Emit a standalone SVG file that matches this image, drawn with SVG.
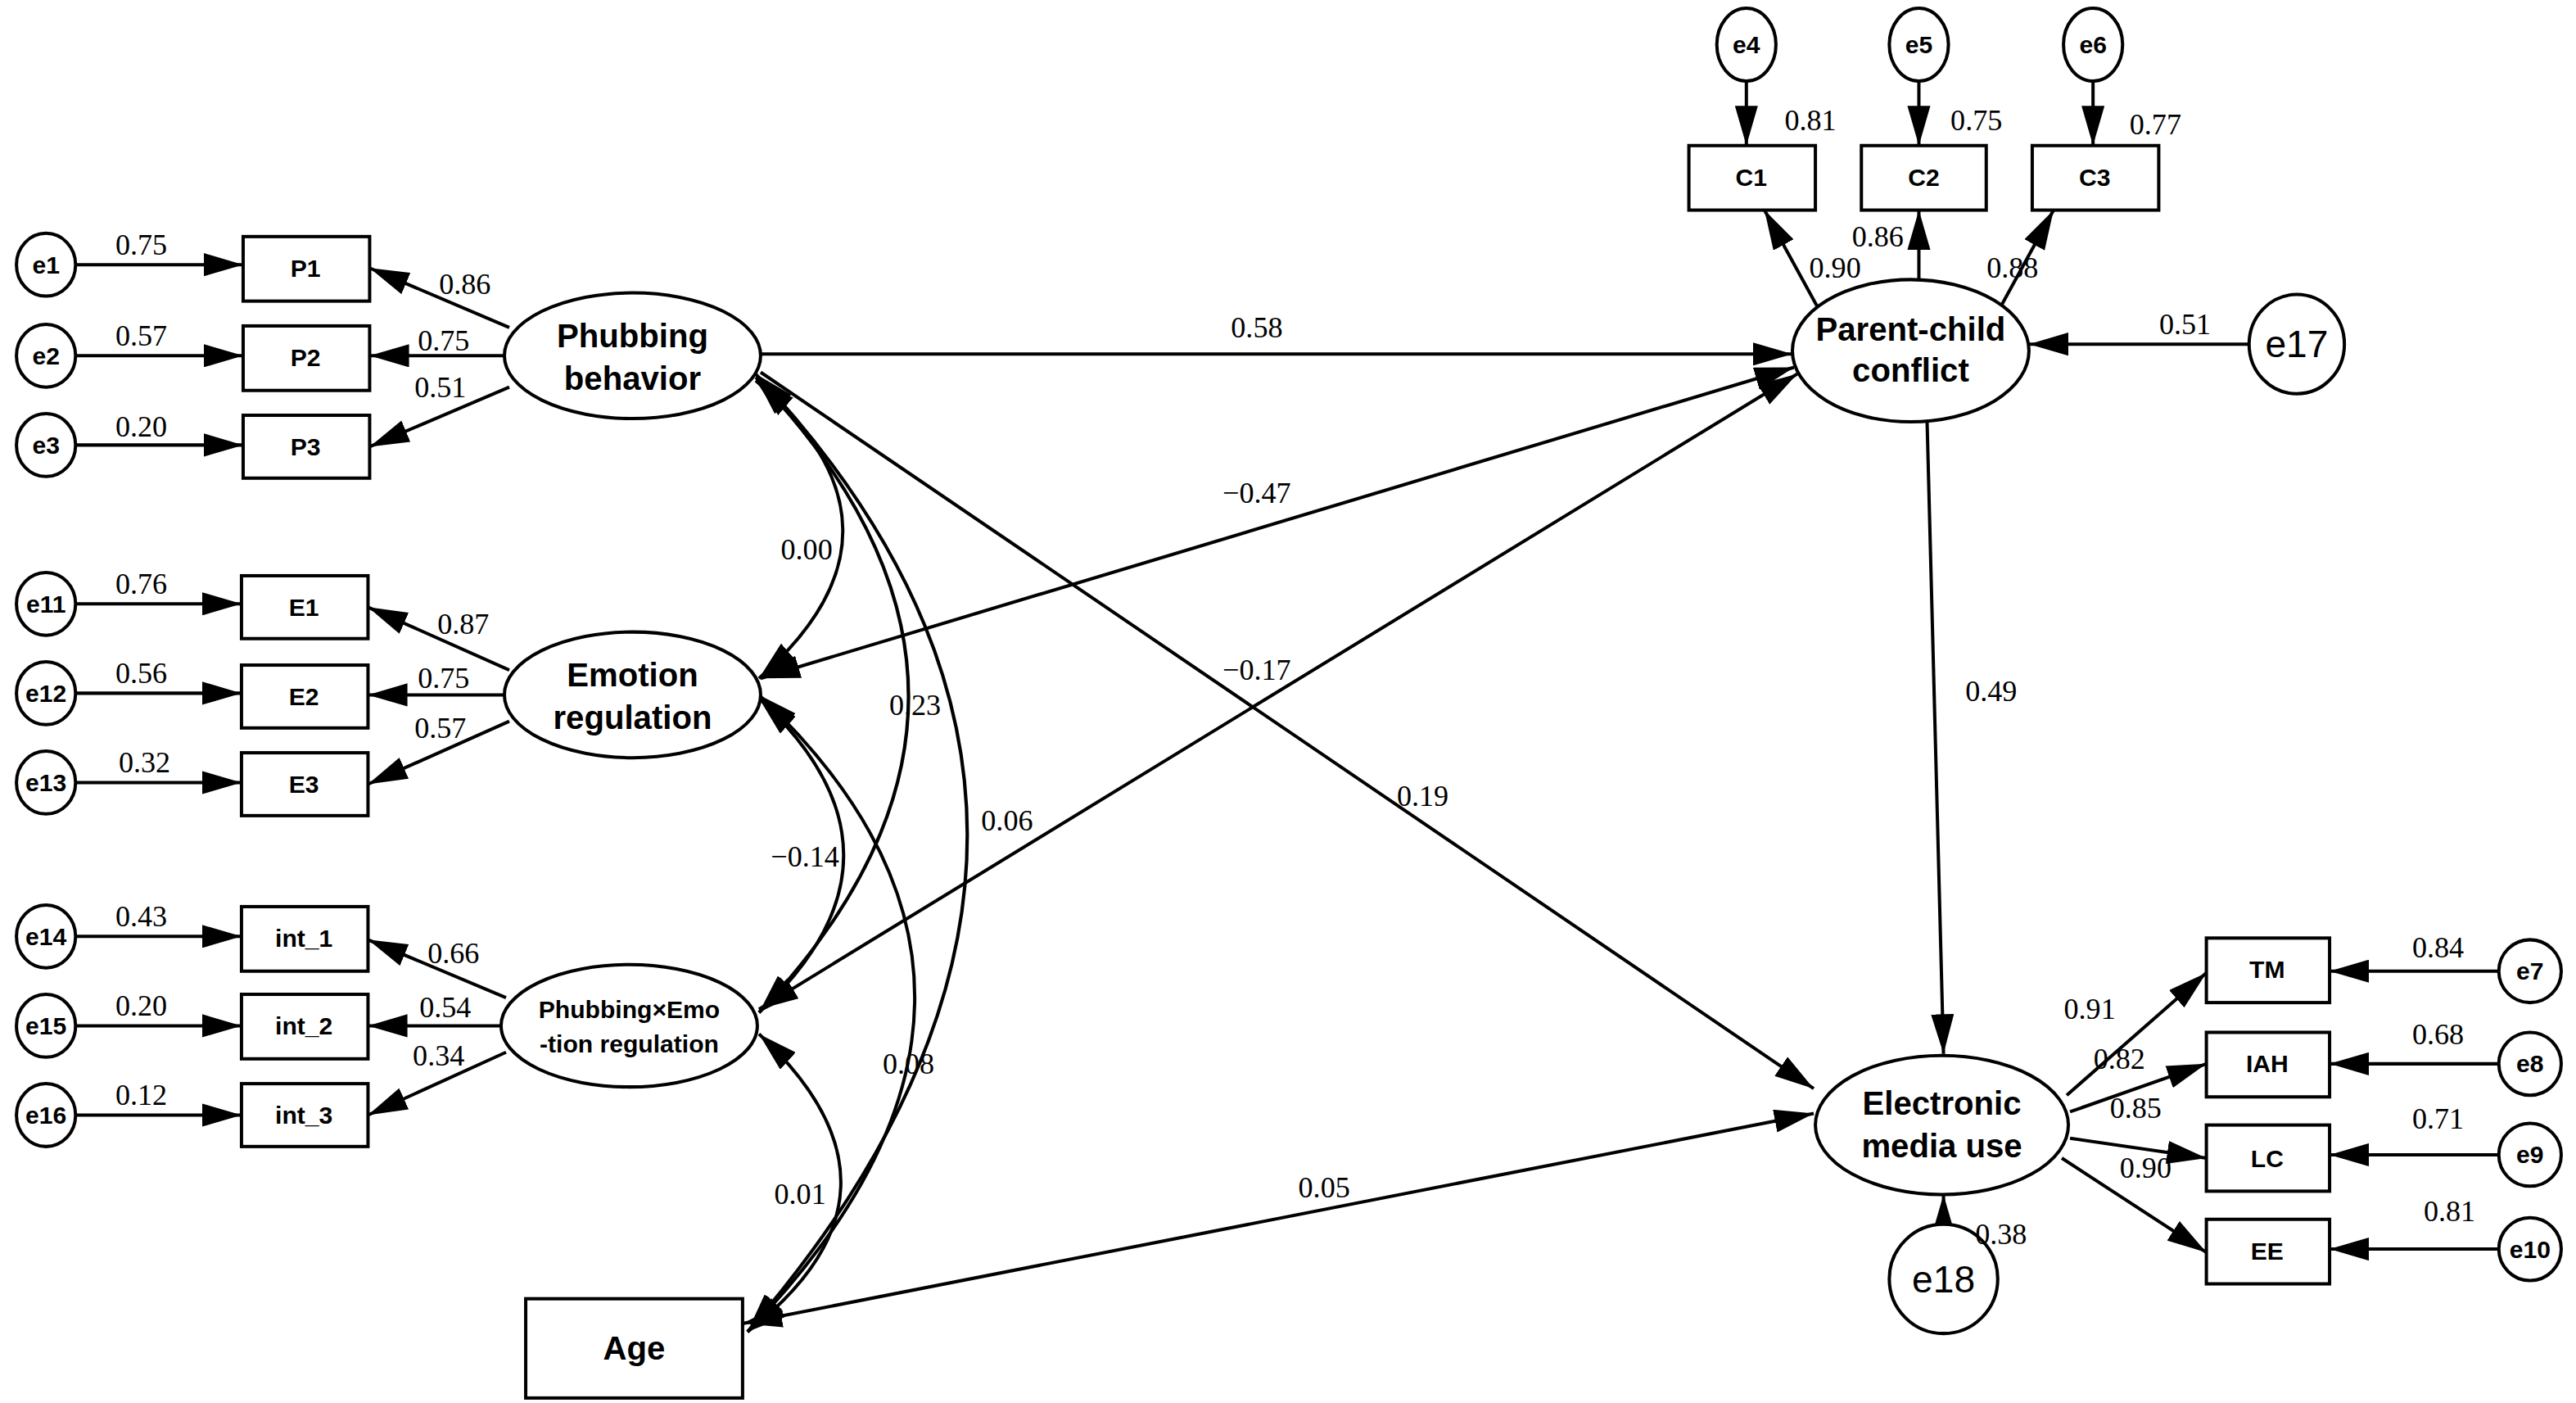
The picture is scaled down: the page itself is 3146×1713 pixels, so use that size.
<svg xmlns="http://www.w3.org/2000/svg" width="3146" height="1713" viewBox="0 0 3146 1713">
<style>
.s{fill:#fff;stroke:#000;stroke-width:2}
.c{fill:none;stroke:#000;stroke-width:2}
.e{marker-end:url(#a)}
.b{marker-start:url(#a);marker-end:url(#a)}
.n{font-family:"Liberation Sans",Arial,sans-serif;font-weight:bold;text-anchor:middle;dominant-baseline:central;font-size:15px}
.L{font-size:20px}
.X{font-size:23px;font-weight:normal}
.v{font-family:"Liberation Serif","Times New Roman",serif;font-size:18px;text-anchor:middle;dominant-baseline:central}
</style>
<defs>
<marker id="a" markerUnits="userSpaceOnUse" markerWidth="24" markerHeight="14" refX="24" refY="7" orient="auto-start-reverse" viewBox="0 0 24 14"><path d="M0,0 L24,7 L0,14 z"/></marker>
</defs>
<rect width="3146" height="1713" fill="#fff"/>
<g transform="scale(2.0064,2.02)">
<g id="connectors">
<path class="c e" d="M46,160H148"/><path class="c e" d="M46,215H148"/><path class="c e" d="M46,269H148"/>
<path class="c e" d="M46,365H147"/><path class="c e" d="M46,419H147"/><path class="c e" d="M46,473H147"/>
<path class="c e" d="M46,566H147"/><path class="c e" d="M46,620H147"/><path class="c e" d="M46,674H147"/>
<path class="c e" d="M310,198L225,162"/><path class="c e" d="M307,215H225"/><path class="c e" d="M310,234L225,270"/>
<path class="c e" d="M310,405L224,367"/><path class="c e" d="M307,420H224"/><path class="c e" d="M310,436L224,474"/>
<path class="c e" d="M308,603L224,568"/><path class="c e" d="M305,620H224"/><path class="c e" d="M308,636L224,674"/>
<path class="c e" d="M1063,49V88"/><path class="c e" d="M1168,49V88"/><path class="c e" d="M1274,49V88"/>
<path class="c e" d="M1106,185L1074,127"/><path class="c e" d="M1168,169V127"/><path class="c e" d="M1218,185L1250,127"/>
<path class="c e" d="M1369,208H1235"/>
<path class="c e" d="M1258,662L1343,588"/><path class="c e" d="M1260,672L1343,643"/><path class="c e" d="M1260,688L1343,700"/><path class="c e" d="M1255,700L1343,757"/>
<path class="c e" d="M1521,587H1418"/><path class="c e" d="M1521,643H1418"/><path class="c e" d="M1521,698H1418"/><path class="c e" d="M1521,755H1418"/>
<path class="c e" d="M1183,740V722"/>
<path class="c e" d="M463,214H1091"/><path class="c e" d="M1173,255L1183,637"/><path class="c e" d="M463,225L1104,658"/>
<path class="c b" d="M463,410L1092,222"/><path class="c b" d="M462,610L1094,226"/><path class="c b" d="M452,800L1104,673"/>
<path class="c b" d="M460,230Q565,320 462,410"/><path class="c b" d="M460,228Q645,420 462,612"/><path class="c b" d="M460,226Q720,500 455,805"/>
<path class="c b" d="M462,422Q565,517 462,612"/><path class="c b" d="M462,420Q655,600 455,805"/><path class="c b" d="M462,625Q565,720 455,805"/>
</g>
<g id="e1"><ellipse class="s" cx="28" cy="160" rx="18" ry="19"/><text class="n" x="28" y="160">e1</text></g>
<g id="e2"><ellipse class="s" cx="28" cy="215" rx="18" ry="19"/><text class="n" x="28" y="215">e2</text></g>
<g id="e3"><ellipse class="s" cx="28" cy="269" rx="18" ry="19"/><text class="n" x="28" y="269">e3</text></g>
<g id="e11"><ellipse class="s" cx="28" cy="365" rx="18" ry="19"/><text class="n" x="28" y="365">e11</text></g>
<g id="e12"><ellipse class="s" cx="28" cy="419" rx="18" ry="19"/><text class="n" x="28" y="419">e12</text></g>
<g id="e13"><ellipse class="s" cx="28" cy="473" rx="18" ry="19"/><text class="n" x="28" y="473">e13</text></g>
<g id="e14"><ellipse class="s" cx="28" cy="566" rx="18" ry="19"/><text class="n" x="28" y="566">e14</text></g>
<g id="e15"><ellipse class="s" cx="28" cy="620" rx="18" ry="19"/><text class="n" x="28" y="620">e15</text></g>
<g id="e16"><ellipse class="s" cx="28" cy="674" rx="18" ry="19"/><text class="n" x="28" y="674">e16</text></g>
<g id="P1"><rect class="s" x="148" y="143" width="77" height="39"/><text class="n" x="186" y="162">P1</text></g>
<g id="P2"><rect class="s" x="148" y="197" width="77" height="39"/><text class="n" x="186" y="216">P2</text></g>
<g id="P3"><rect class="s" x="148" y="251" width="77" height="38"/><text class="n" x="186" y="270">P3</text></g>
<g id="E1"><rect class="s" x="147" y="348" width="77" height="38"/><text class="n" x="185" y="367">E1</text></g>
<g id="E2"><rect class="s" x="147" y="402" width="77" height="38"/><text class="n" x="185" y="421">E2</text></g>
<g id="E3"><rect class="s" x="147" y="455" width="77" height="38"/><text class="n" x="185" y="474">E3</text></g>
<g id="int1"><rect class="s" x="147" y="548" width="77" height="39"/><text class="n" x="185" y="567">int_1</text></g>
<g id="int2"><rect class="s" x="147" y="601" width="77" height="39"/><text class="n" x="185" y="620">int_2</text></g>
<g id="int3"><rect class="s" x="147" y="655" width="77" height="38"/><text class="n" x="185" y="674">int_3</text></g>
<g id="phub"><ellipse class="s" cx="385" cy="215" rx="78" ry="38"/><text class="n L" x="385" y="203">Phubbing</text><text class="n L" x="385" y="229">behavior</text></g>
<g id="emo"><ellipse class="s" cx="385" cy="420" rx="78" ry="38"/><text class="n L" x="385" y="408">Emotion</text><text class="n L" x="385" y="434">regulation</text></g>
<g id="inter"><ellipse class="s" cx="383" cy="620" rx="78" ry="37"/><text class="n" x="383" y="610">Phubbing×Emo</text><text class="n" x="383" y="631">-tion regulation</text></g>
<g id="age"><rect class="s" x="320" y="785" width="132" height="60"/><text class="n L" x="386" y="815">Age</text></g>
<g id="e4"><ellipse class="s" cx="1063" cy="27" rx="18" ry="22"/><text class="n" x="1063" y="27">e4</text></g>
<g id="e5"><ellipse class="s" cx="1168" cy="27" rx="18" ry="22"/><text class="n" x="1168" y="27">e5</text></g>
<g id="e6"><ellipse class="s" cx="1274" cy="27" rx="18" ry="22"/><text class="n" x="1274" y="27">e6</text></g>
<g id="C1"><rect class="s" x="1028" y="88" width="77" height="39"/><text class="n" x="1066" y="107">C1</text></g>
<g id="C2"><rect class="s" x="1133" y="88" width="76" height="39"/><text class="n" x="1171" y="107">C2</text></g>
<g id="C3"><rect class="s" x="1237" y="88" width="77" height="39"/><text class="n" x="1275" y="107">C3</text></g>
<g id="pcc"><ellipse class="s" cx="1163" cy="212" rx="72" ry="43"/><text class="n L" x="1163" y="199">Parent-child</text><text class="n L" x="1163" y="224">conflict</text></g>
<g id="e17"><ellipse class="s" cx="1398" cy="208" rx="29" ry="30"/><text class="n L X" x="1398" y="208">e17</text></g>
<g id="emu"><ellipse class="s" cx="1182" cy="680" rx="77" ry="42"/><text class="n L" x="1182" y="667">Electronic</text><text class="n L" x="1182" y="693">media use</text></g>
<g id="e18"><ellipse class="s" cx="1183" cy="773" rx="33" ry="33"/><text class="n L X" x="1183" y="773">e18</text></g>
<g id="TM"><rect class="s" x="1343" y="567" width="75" height="39"/><text class="n" x="1380" y="586">TM</text></g>
<g id="IAH"><rect class="s" x="1343" y="624" width="75" height="39"/><text class="n" x="1380" y="643">IAH</text></g>
<g id="LC"><rect class="s" x="1343" y="680" width="75" height="40"/><text class="n" x="1380" y="700">LC</text></g>
<g id="EE"><rect class="s" x="1343" y="737" width="75" height="39"/><text class="n" x="1380" y="756">EE</text></g>
<g id="e7"><ellipse class="s" cx="1540" cy="587" rx="19" ry="19"/><text class="n" x="1540" y="587">e7</text></g>
<g id="e8"><ellipse class="s" cx="1540" cy="643" rx="19" ry="19"/><text class="n" x="1540" y="643">e8</text></g>
<g id="e9"><ellipse class="s" cx="1540" cy="698" rx="19" ry="19"/><text class="n" x="1540" y="698">e9</text></g>
<g id="e10"><ellipse class="s" cx="1540" cy="755" rx="19" ry="19"/><text class="n" x="1540" y="755">e10</text></g>
<g id="labels">
<text class="v" x="86" y="148">0.75</text><text class="v" x="86" y="203">0.57</text><text class="v" x="86" y="258">0.20</text>
<text class="v" x="283" y="172">0.86</text><text class="v" x="270" y="206">0.75</text><text class="v" x="268" y="234">0.51</text>
<text class="v" x="86" y="353">0.76</text><text class="v" x="86" y="407">0.56</text><text class="v" x="88" y="461">0.32</text>
<text class="v" x="282" y="377">0.87</text><text class="v" x="270" y="410">0.75</text><text class="v" x="268" y="440">0.57</text>
<text class="v" x="86" y="554">0.43</text><text class="v" x="86" y="608">0.20</text><text class="v" x="86" y="662">0.12</text>
<text class="v" x="276" y="576">0.66</text><text class="v" x="271" y="609">0.54</text><text class="v" x="267" y="638">0.34</text>
<text class="v" x="491" y="332">0.00</text><text class="v" x="557" y="426">0.23</text><text class="v" x="490" y="518">−0.14</text>
<text class="v" x="613" y="496">0.06</text><text class="v" x="553" y="643">0.08</text><text class="v" x="487" y="722">0.01</text>
<text class="v" x="765" y="198">0.58</text><text class="v" x="765" y="298">−0.47</text><text class="v" x="765" y="405">−0.17</text>
<text class="v" x="866" y="481">0.19</text><text class="v" x="806" y="718">0.05</text><text class="v" x="1212" y="418">0.49</text>
<text class="v" x="1102" y="73">0.81</text><text class="v" x="1203" y="73">0.75</text><text class="v" x="1312" y="75">0.77</text>
<text class="v" x="1143" y="143">0.86</text><text class="v" x="1117" y="162">0.90</text><text class="v" x="1225" y="162">0.88</text>
<text class="v" x="1330" y="196">0.51</text>
<text class="v" x="1272" y="610">0.91</text><text class="v" x="1290" y="640">0.82</text><text class="v" x="1300" y="670">0.85</text><text class="v" x="1306" y="706">0.90</text>
<text class="v" x="1218" y="746">0.38</text>
<text class="v" x="1484" y="573">0.84</text><text class="v" x="1484" y="625">0.68</text><text class="v" x="1484" y="676">0.71</text><text class="v" x="1491" y="732">0.81</text>
</g>
</g>
</svg>
